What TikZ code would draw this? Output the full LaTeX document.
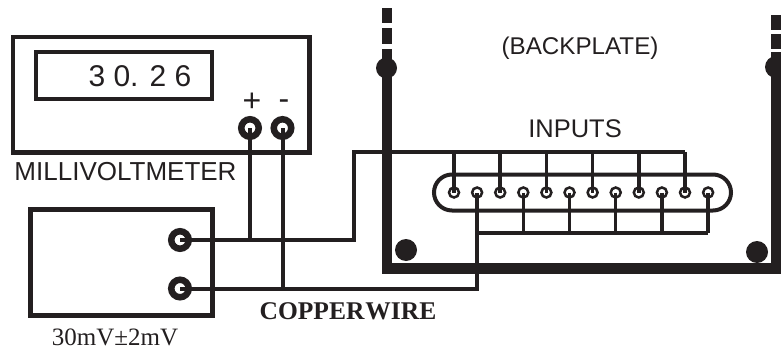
\documentclass[tikz,border=0pt]{standalone}
\usepackage{fontspec}
\setmainfont{Liberation Serif}
\setsansfont{Liberation Sans}
\definecolor{ink}{HTML}{231F20}
\begin{document}
\begin{tikzpicture}[x=1pt,y=-1pt,
  wire/.style={draw=ink,line width=4pt},
  boxline/.style={draw=ink,line width=4.5pt},
  plate/.style={fill=ink,draw=none},
  bigterm/.style={circle,draw=ink,line width=6.5pt,fill=white,minimum size=17.5pt,inner sep=0pt},
  pinring/.style={circle,draw=ink,line width=2.5pt,fill=white,minimum size=10pt,inner sep=0pt},
  sanslabel/.style={anchor=base,text=ink,inner sep=0pt,font=\sffamily\fontsize{#1}{#1}\selectfont},
  seriflabel/.style={anchor=base,text=ink,inner sep=0pt,font=\fontsize{#1}{#1}\selectfont}]
\useasboundingbox (0,0) rectangle (781,350);
% backplate
\fill[plate] (382,8) rectangle (392,23);
\fill[plate] (382,28) rectangle (392,44);
\fill[plate] (382,49) rectangle (392,274);
\fill[plate] (382,263) rectangle (781,274);
\fill[plate] (771,15) rectangle (781,30);
\fill[plate] (771,34) rectangle (781,49);
\fill[plate] (771,52) rectangle (781,274);
\fill[plate] (386.5,68) circle (10.5);
\fill[plate] (776,67) circle (11);
\fill[plate] (406,250) circle (11);
\fill[plate] (757,252) circle (11);
% meter
\draw[boxline] (13,37) rectangle (309.5,152.5);
\draw[boxline,line width=4pt] (36.3,52) rectangle (211.5,99);
\node[sanslabel=30] (disp) at (140,87) {3 0. 2 6};
\node[sanslabel=32] (plus) at (252,112) {+};
\node[sanslabel=32] (minus) at (284,110) {-};
\node[sanslabel=26] (mvm) at (125.5,180) {MILLIVOLTMETER};
\node[bigterm] (mp) at (250,128) {};
\node[bigterm] (mm) at (282.5,128) {};
% source
\draw[boxline,line width=5pt] (30.5,209.5) rectangle (212.5,315.5);
\node[bigterm] (s1) at (180,240) {};
\node[bigterm] (s2) at (180,288.5) {};
\node[seriflabel=25] (src) at (115,345.5) {30mV±2mV};
\node[seriflabel=25,font=\bfseries\fontsize{25.5}{25.5}\selectfont] (cw) at (348,319) {COPPER\kern1pt WIRE};
% labels backplate
\node[sanslabel=24.2] (bp) at (580,54.5) {(BACKPLATE)};
\node[sanslabel=25.5] (inp) at (575,137) {INPUTS};
% connector
\draw[draw=ink,line width=4pt,rounded corners=18pt] (434,174.5) rectangle (731,210.5);
\foreach \i in {1,...,12}{
  \pgfmathsetmacro\px{454+23.1*(\i-1)}
  \node[pinring] (p\i) at (\px,192.5) {};
}
\coordinate (bendA) at (354,240);
\coordinate (busT) at (354,152);
\coordinate (busB) at (477,233);
% wires
\draw[wire] (s1.center) -- (bendA) -- (busT) -- (p11.center |- busT);
\draw[wire] (mp.center) -- (mp.center |- s1.center);
\draw[wire] (mm.center) -- (mm.center |- s2.center);
\draw[wire] (s2.center) -| (p2.center);
\draw[wire] (p2.center |- busB) -- (p12.center |- busB);
\foreach \i in {1,3,5,7,9,11}{
  \draw[wire,line width=3.5pt] (p\i.center) -- (p\i.center |- busT);
}
\foreach \i in {4,6,8,10,12}{
  \draw[wire,line width=3.5pt] (p\i.center) -- (p\i.center |- busB);
}
\end{tikzpicture}
\end{document}
